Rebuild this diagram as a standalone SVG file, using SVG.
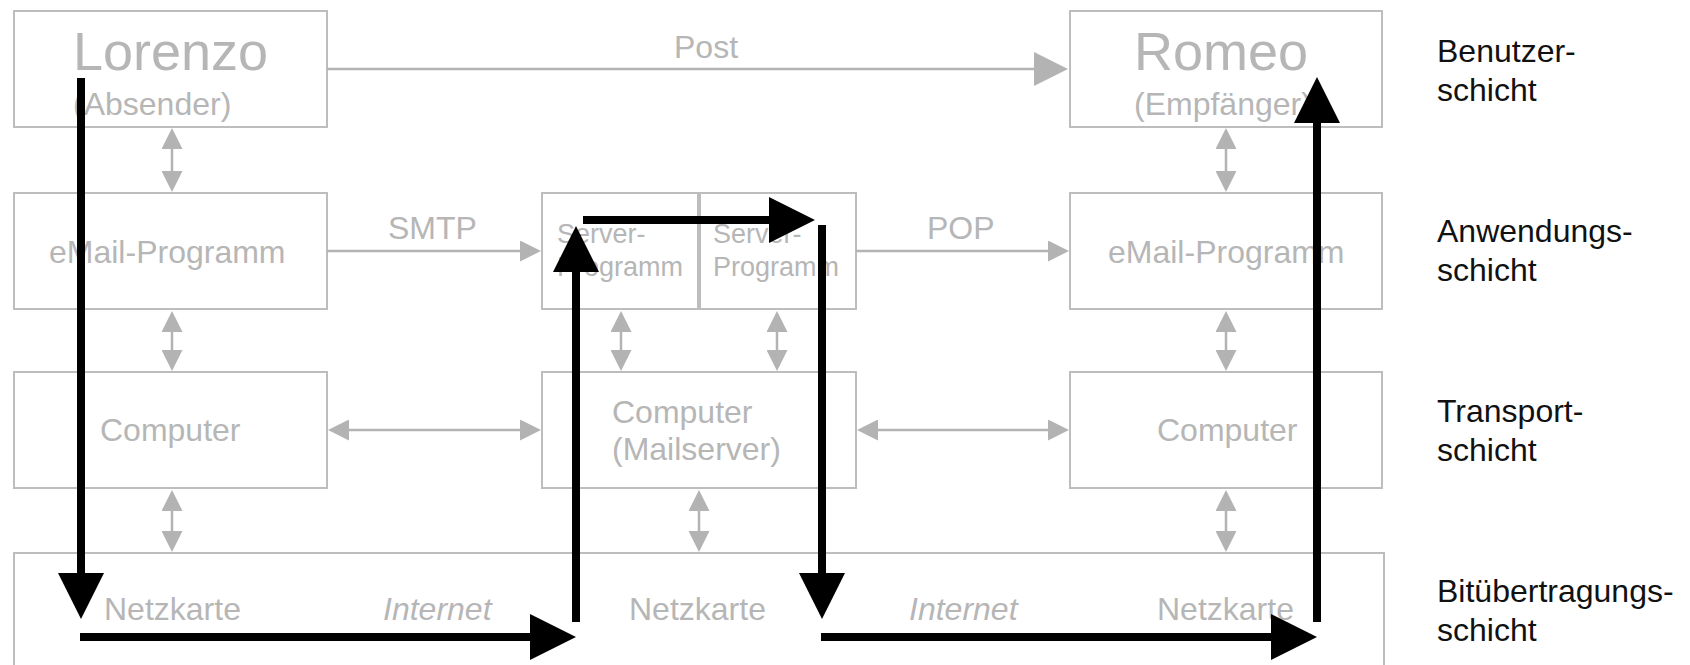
<svg xmlns="http://www.w3.org/2000/svg" width="1690" height="665" viewBox="0 0 1690 665">
  <style>
    .box { fill: #ffffff; stroke: #bdbdbd; stroke-width: 2; }
    .t { font-family: "Liberation Sans", Arial, Helvetica, sans-serif; fill: #b6b6b6; font-size: 32px; }
    .big { font-size: 54px; }
    .small { font-size: 27px; }
    .it { font-style: italic; }
    .lbl { font-family: "Liberation Sans", Arial, Helvetica, sans-serif; fill: #111111; font-size: 32px; }
    .g { fill: none; stroke: #b3b3b3; stroke-width: 2.5; }
    .gs { marker-end: url(#gh); }
    .gd { marker-start: url(#gh); marker-end: url(#gh); }
    .b { fill: none; stroke: #000000; stroke-width: 8; marker-end: url(#bh); }
  </style>
  <defs>
    <!-- small grey arrowhead: base at path end, tip 21px ahead -->
    <marker id="gh" viewBox="0 0 21 21" refX="0" refY="10.5" markerWidth="21" markerHeight="21" markerUnits="userSpaceOnUse" orient="auto-start-reverse">
      <path d="M0,0 L21,10.5 L0,21 Z" fill="#b3b3b3"/>
    </marker>
    <!-- large grey arrowhead for the letter path -->
    <marker id="gp" viewBox="0 0 34 34" refX="0" refY="17" markerWidth="34" markerHeight="34" markerUnits="userSpaceOnUse" orient="auto">
      <path d="M0,0 L34,17 L0,34 Z" fill="#b3b3b3"/>
    </marker>
    <!-- black route arrowhead -->
    <marker id="bh" viewBox="0 0 46 46" refX="0" refY="23" markerWidth="46" markerHeight="46" markerUnits="userSpaceOnUse" orient="auto">
      <path d="M0,0 L46,23 L0,46 Z" fill="#000000"/>
    </marker>
  </defs>

  <!-- bit transmission layer: one wide strip, runs past the lower edge -->
  <g id="netz">
    <rect class="box" x="14" y="553" width="1370" height="130"/>
    <text class="t" x="104" y="620">Netzkarte</text>
    <text class="t it" x="383" y="620">Internet</text>
    <text class="t" x="629" y="620">Netzkarte</text>
    <text class="t it" x="909" y="620">Internet</text>
    <text class="t" x="1157" y="620">Netzkarte</text>
  </g>

  <g id="lorenzo">
    <rect class="box" x="14" y="11" width="313" height="116"/>
    <text class="t big" x="73" y="70">Lorenzo</text>
    <text class="t" x="73" y="115">(Absender)</text>
  </g>
  <g id="romeo">
    <rect class="box" x="1070" y="11" width="312" height="116"/>
    <text class="t big" x="1134" y="70">Romeo</text>
    <text class="t" x="1134" y="115">(Empfänger)</text>
  </g>

  <g id="mail-left">
    <rect class="box" x="14" y="193" width="313" height="116"/>
    <text class="t" x="49" y="263">eMail-Programm</text>
  </g>
  <g id="server">
    <rect class="box" x="542" y="193" width="314" height="116"/>
    <line x1="699" y1="193" x2="699" y2="309" stroke="#bdbdbd" stroke-width="4"/>
    <text class="t small" x="557" y="243">Server-</text>
    <text class="t small" x="557" y="276">Programm</text>
    <text class="t small" x="713" y="243">Server-</text>
    <text class="t small" x="713" y="276">Programm</text>
  </g>
  <g id="mail-right">
    <rect class="box" x="1070" y="193" width="312" height="116"/>
    <text class="t" x="1108" y="263">eMail-Programm</text>
  </g>

  <g id="computer-left">
    <rect class="box" x="14" y="372" width="313" height="116"/>
    <text class="t" x="100" y="441">Computer</text>
  </g>
  <g id="computer-mid">
    <rect class="box" x="542" y="372" width="314" height="116"/>
    <text class="t" x="612" y="423">Computer</text>
    <text class="t" x="612" y="460">(Mailserver)</text>
  </g>
  <g id="computer-right">
    <rect class="box" x="1070" y="372" width="312" height="116"/>
    <text class="t" x="1157" y="441">Computer</text>
  </g>

  <g id="layers">
    <text class="lbl" x="1437" y="62">Benutzer-</text>
    <text class="lbl" x="1437" y="101">schicht</text>
    <text class="lbl" x="1437" y="242">Anwendungs-</text>
    <text class="lbl" x="1437" y="281">schicht</text>
    <text class="lbl" x="1437" y="422">Transport-</text>
    <text class="lbl" x="1437" y="461">schicht</text>
    <text class="lbl" x="1437" y="602">Bitübertragungs-</text>
    <text class="lbl" x="1437" y="641">schicht</text>
  </g>

  <g id="connectors">
    <!-- Post -->
    <path class="g" d="M327 69 H1034" marker-end="url(#gp)"/>
    <text class="t" x="674" y="58">Post</text>
    <!-- SMTP / POP -->
    <path class="g gs" d="M327 251 H520"/>
    <text class="t" x="388" y="239">SMTP</text>
    <path class="g gs" d="M856 251 H1048"/>
    <text class="t" x="927" y="239">POP</text>
    <!-- vertical layer links -->
    <path class="g gd" d="M172 149 V171"/>
    <path class="g gd" d="M1226 149 V171"/>
    <path class="g gd" d="M172 332 V350"/>
    <path class="g gd" d="M621 332 V350"/>
    <path class="g gd" d="M777 332 V350"/>
    <path class="g gd" d="M1226 332 V350"/>
    <path class="g gd" d="M172 511 V531"/>
    <path class="g gd" d="M699 511 V531"/>
    <path class="g gd" d="M1226 511 V531"/>
    <!-- transport links -->
    <path class="g gd" d="M349 430 H520"/>
    <path class="g gd" d="M878 430 H1048"/>

    <!-- message route -->
    <path class="b" d="M81 78 V573"/>
    <path class="b" d="M80 637 H530"/>
    <path class="b" d="M576 622 V272"/>
    <path class="b" d="M583 220 H769"/>
    <path class="b" d="M822 225 V573"/>
    <path class="b" d="M821 637 H1271"/>
    <path class="b" d="M1317 622 V123"/>
  </g>
</svg>
